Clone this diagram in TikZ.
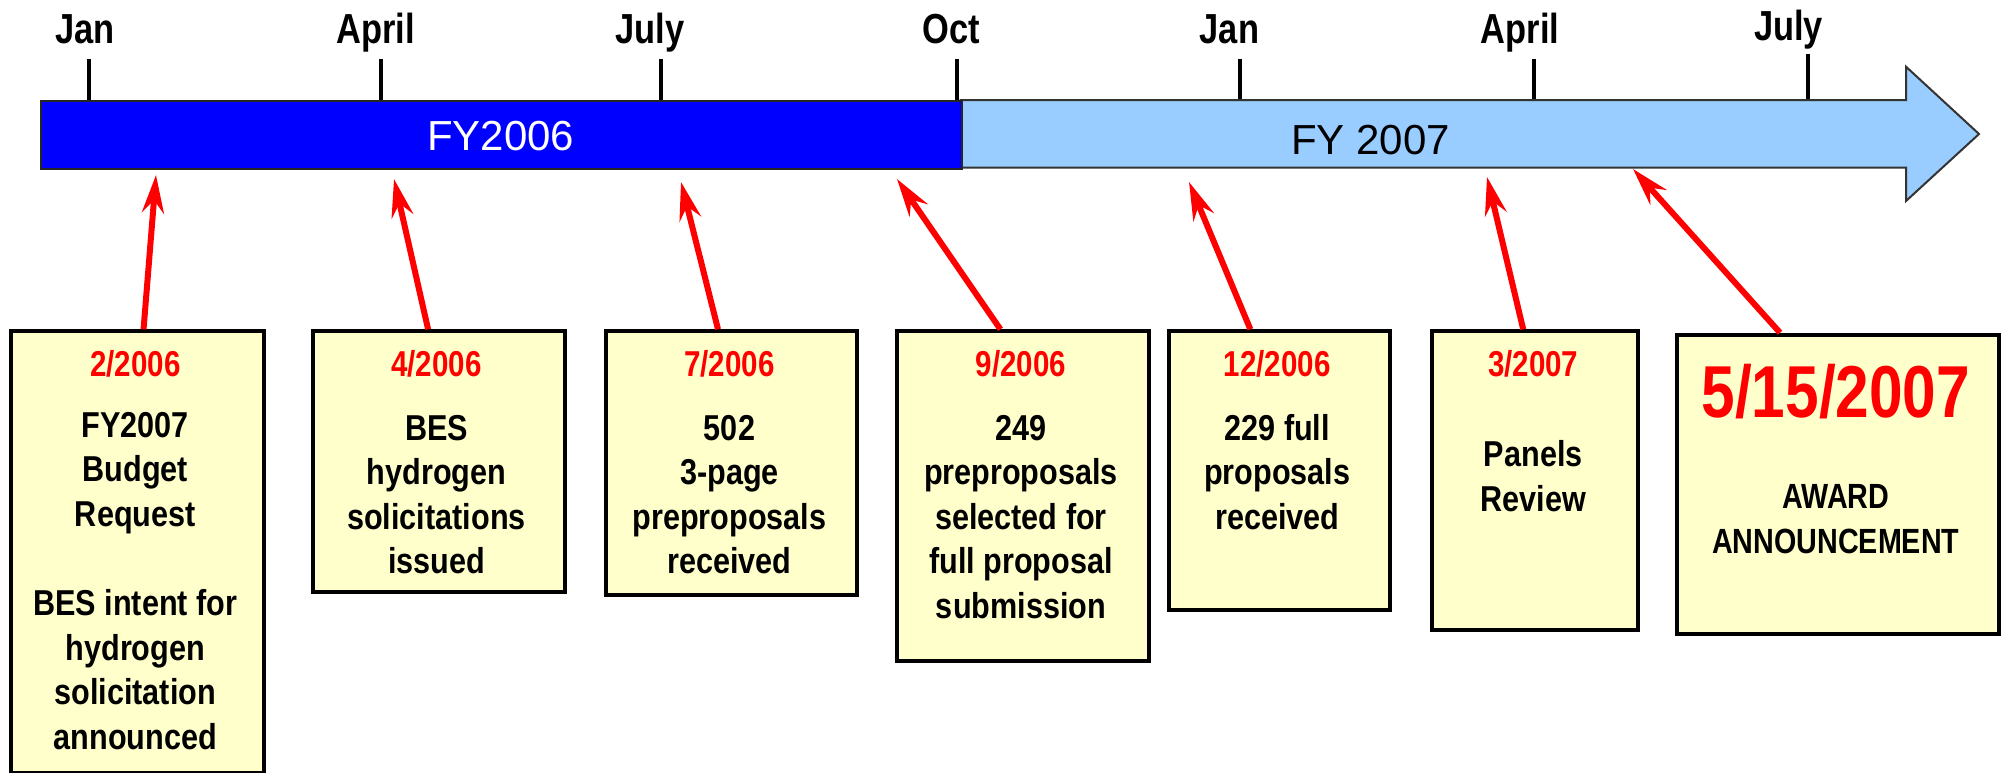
\documentclass[tikz,border=0pt]{standalone}
\usepackage{fontspec}
\usetikzlibrary{arrows.meta}
\newfontfamily\arialf{Liberation Sans}
\newfontfamily\narrowf[FakeStretch=0.82]{Liberation Sans}
\newfontfamily\bodyf[FakeStretch=0.85]{Liberation Sans}
\definecolor{fyblue}{RGB}{0,0,255}
\definecolor{fylight}{RGB}{153,204,255}
\definecolor{boxyellow}{RGB}{255,255,204}
\definecolor{datered}{RGB}{255,0,0}
\tikzset{
  evbox/.style={draw=black, line width=4pt, fill=boxyellow, inner sep=0pt, anchor=north west},
  monthlbl/.style={font=\narrowf\bfseries\fontsize{42}{50}\selectfont, anchor=base, inner sep=0pt},
  body/.style={font=\bodyf\bfseries\fontsize{36}{44}\selectfont, anchor=base, inner sep=0pt},
  datelbl/.style={body, font=\narrowf\bfseries\fontsize{36}{44}\selectfont, text=datered},
  fylbl/.style={font=\arialf\fontsize{42}{50}\selectfont, anchor=base, inner sep=0pt},
  redarr/.style={draw=datered, line width=6pt, -{Stealth[length=38pt,width=22pt,inset=13pt]}},
  tickline/.style={line width=4pt, black},
}
\begin{document}
\begin{tikzpicture}[x=1pt,y=-1pt]
\useasboundingbox (0,0) rectangle (2002,772);
\fill[white] (0,0) rectangle (2002,772);
% ticks
\foreach \x/\t in {89/Jan,380.7/April,661.4/July,956.6/Oct,1240/Jan,1533.5/April}
  \draw[tickline] (\x,59) -- (\x,100);
\draw[tickline] (1808,54) -- (1808,100);
% timeline bar
\draw[draw=black!80, line width=2pt, fill=fylight]
  (960.5,100) -- (1906,100) -- (1906,66.7) -- (1979,134) -- (1906,201) -- (1906,167.7) -- (960.5,167.7) -- cycle;
\node[draw=black!85, line width=2pt, fill=fyblue, inner sep=0pt, anchor=north west,
      minimum width=921pt, minimum height=67.7pt] (fy06) at (39.5,100) {};
\node[fylbl, text=white] (fy06t) at (500.6,150) {FY2006};
\node[fylbl, text=black] (fy07t) at (1370.6,154) {FY 2007};
% month labels
\node[monthlbl] (m1) at (84.8,43.3) {Jan};
\node[monthlbl] (m2) at (375.6,43.3) {April};
\node[monthlbl] (m3) at (650,43.3) {July};
\node[monthlbl] (m4) at (951,43.3) {Oct};
\node[monthlbl] (m5) at (1229.4,43.3) {Jan};
\node[monthlbl] (m6) at (1520,43.3) {April};
\node[monthlbl] (m7) at (1788.5,40) {July};
% arrow tips
\coordinate (t1) at (156,175);
\coordinate (t2) at (394,179);
\coordinate (t3) at (681,182);
\coordinate (t4) at (897,179);
\coordinate (t5) at (1189,182);
\coordinate (t6) at (1487,177);
\coordinate (t7) at (1633,169);
% boxes
\node[evbox, minimum width=252.5pt, minimum height=441.4pt] (b1) at (9,329.3) {};
\node[evbox, minimum width=252pt, minimum height=260.7pt] (b2) at (310.6,329.3) {};
\node[evbox, minimum width=251pt, minimum height=264pt] (b3) at (604,329.3) {};
\node[evbox, minimum width=252.2pt, minimum height=329.7pt] (b4) at (894.8,329.3) {};
\node[evbox, minimum width=221.1pt, minimum height=279pt] (b5) at (1166.8,329.3) {};
\node[evbox, minimum width=206.4pt, minimum height=299pt] (b6) at (1430,329.3) {};
\node[evbox, minimum width=322pt, minimum height=299pt] (b7) at (1674.8,332.7) {};
% arrows
\draw[redarr] ([xshift=6.3pt]b1.north) -- (t1);
\draw[redarr] ([xshift=-10.5pt]b2.north) -- (t2);
\draw[redarr] ([xshift=-13.5pt]b3.north) -- (t3);
\draw[redarr] ([xshift=-22.5pt]b4.north) -- (t4);
\draw[redarr] ([xshift=-29pt]b5.north) -- (t5);
\draw[redarr] ([xshift=-12pt]b6.north) -- (t6);
\draw[redarr] ([xshift=-57.8pt]b7.north) -- (t7);
% box texts
\node[datelbl] (b1d) at (135.3,376.7) {2/2006};
\foreach \t/\y [count=\i] in {FY2007/437.3, Budget/481.9, Request/526.5, BES intent for/615.7, hydrogen/660.3, solicitation/704.9, announced/749.5}
  \node[body] (b1t\i) at (135.3,\y) {\t};
\node[datelbl] (b2d) at (436.5,376.7) {4/2006};
\foreach \t/\y [count=\i] in {BES/440, hydrogen/484.6, solicitations/529.2, issued/573.8}
  \node[body] (b2t\i) at (436.5,\y) {\t};
\node[datelbl] (b3d) at (729.5,376.7) {7/2006};
\foreach \t/\y [count=\i] in {502/440, 3-page/484.6, preproposals/529.2, received/573.8}
  \node[body] (b3t\i) at (729.5,\y) {\t};
\node[datelbl] (b4d) at (1021,376.7) {9/2006};
\foreach \t/\y [count=\i] in {249/440, preproposals/484.6, selected for/529.2, full proposal/573.8, submission/618.4}
  \node[body] (b4t\i) at (1021,\y) {\t};
\node[datelbl] (b5d) at (1277.3,376.7) {12/2006};
\foreach \t/\y [count=\i] in {229 full/440, proposals/484.6, received/529.2}
  \node[body] (b5t\i) at (1277.3,\y) {\t};
\node[datelbl] (b6d) at (1533.2,376.7) {3/2007};
\foreach \t/\y [count=\i] in {Panels/466.7, Review/511}
  \node[body] (b6t\i) at (1533.2,\y) {\t};
\node[datelbl, font=\narrowf\bfseries\fontsize{73.6}{80}\selectfont] (b7d) at (1835.8,417.7) {5/15/2007};
\node[body, font=\narrowf\bfseries\fontsize{35}{42}\selectfont] (b7t1) at (1835.8,508.3) {AWARD};
\node[body, font=\narrowf\bfseries\fontsize{35}{42}\selectfont] (b7t2) at (1835.8,553.3) {ANNOUNCEMENT};
\end{tikzpicture}
\end{document}
